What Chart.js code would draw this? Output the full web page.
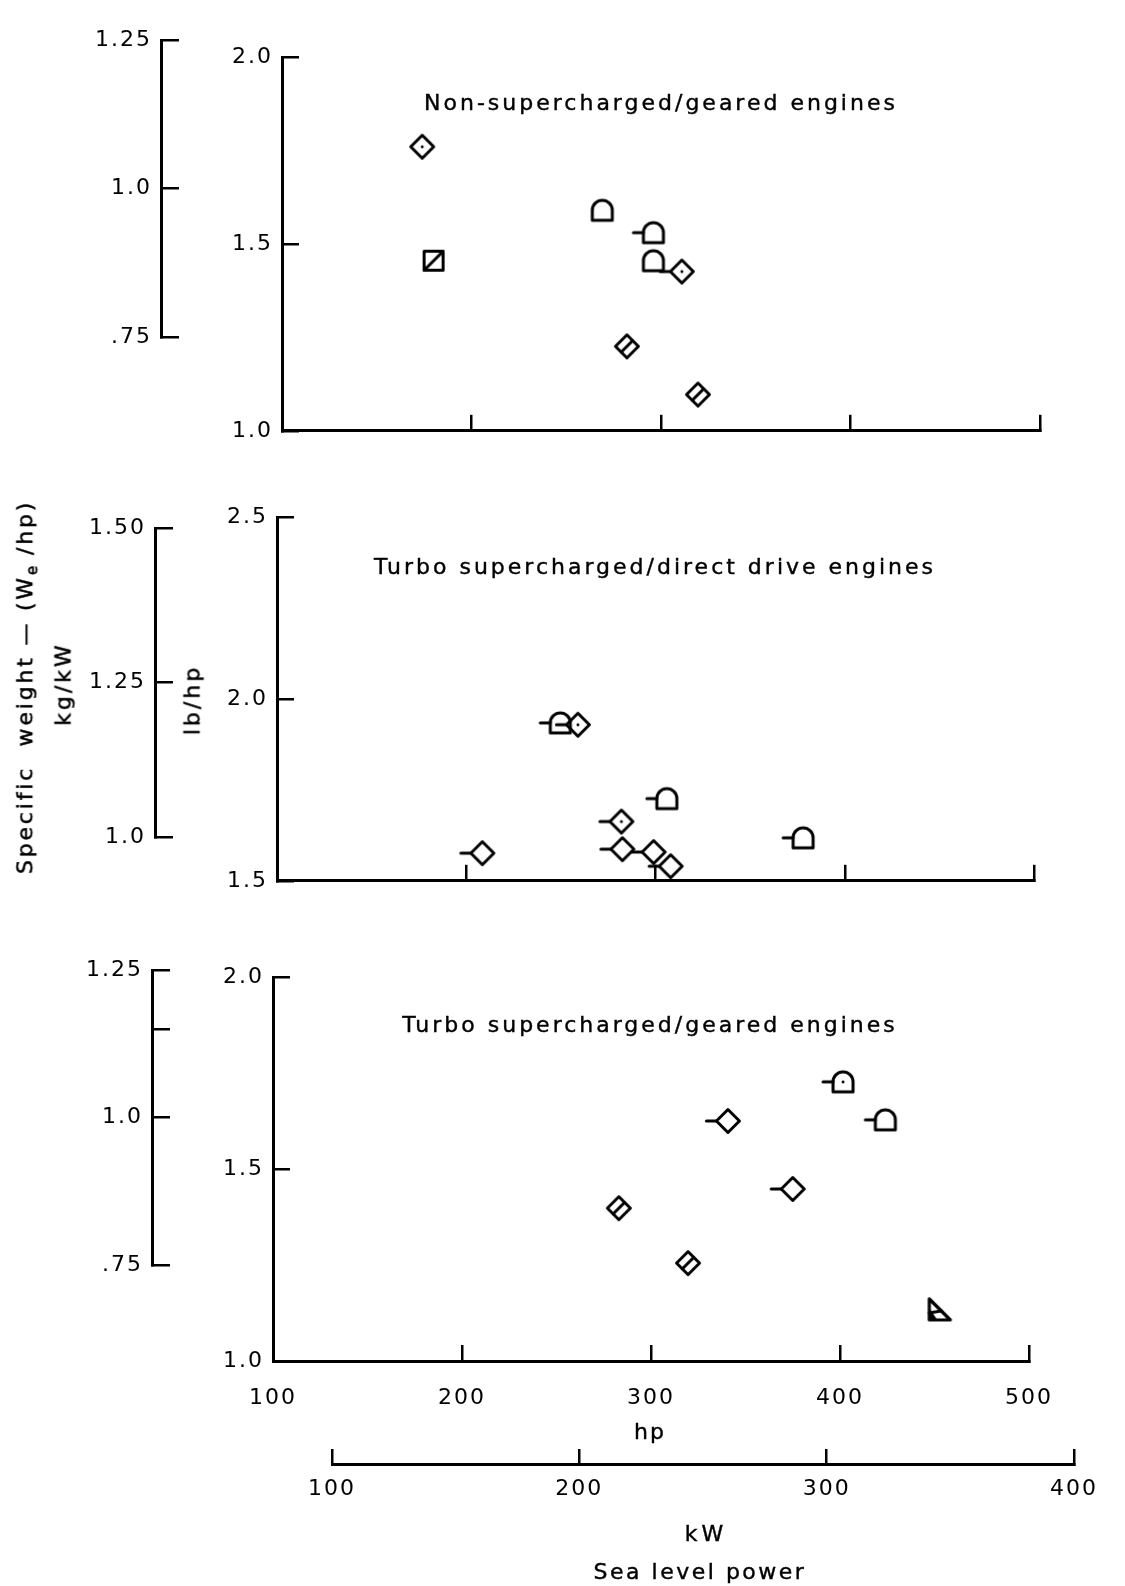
<!DOCTYPE html>
<html>
<head>
<meta charset="utf-8">
<script src="https://cdn.jsdelivr.net/npm/chart.js@4.4.1/dist/chart.umd.min.js"></script>
<style>
html,body{margin:0;padding:0;background:#fff;}
body{width:1125px;height:1586px;position:relative;overflow:hidden;font-family:"DejaVu Sans",sans-serif;color:#000;}
canvas{position:absolute;left:0;}
.txt{position:absolute;white-space:nowrap;font-size:22px;letter-spacing:3px;transform:translate(-50%,-50%);-webkit-text-stroke:0.4px #000;}
.rot{position:absolute;white-space:nowrap;font-size:22px;letter-spacing:2.8px;transform:translate(-50%,-50%) rotate(-90deg);-webkit-text-stroke:0.5px #000;}
.rot sub{font-size:15px;letter-spacing:1px;}
</style>
</head>
<body>
<canvas id="kg1" width="1125" height="470" style="top:0px"></canvas>
<canvas id="p1" width="1125" height="470" style="top:0px"></canvas>
<canvas id="kg2" width="1125" height="450" style="top:470px"></canvas>
<canvas id="p2" width="1125" height="450" style="top:470px"></canvas>
<canvas id="kg3" width="1125" height="470" style="top:930px"></canvas>
<canvas id="p3" width="1125" height="490" style="top:930px"></canvas>
<canvas id="kw" width="1125" height="186" style="top:1400px"></canvas>

<div class="txt" style="left:661px;top:102px;">Non-supercharged/geared engines</div>
<div class="txt" style="left:655px;top:566px;">Turbo supercharged/direct drive engines</div>
<div class="txt" style="left:650px;top:1024px;">Turbo supercharged/geared engines</div>
<div class="rot" style="left:27px;top:687px;">Specific&nbsp; weight — (W<sub>e</sub> /hp)</div>
<div class="rot" style="left:63px;top:684px;letter-spacing:3px;">kg/kW</div>
<div class="rot" style="left:192px;top:700px;letter-spacing:3px;">lb/hp</div>
<div class="txt" style="left:650px;top:1431px;letter-spacing:2px;">hp</div>
<div class="txt" style="left:706px;top:1533px;letter-spacing:4px;">kW</div>
<div class="txt" style="left:700px;top:1571px;letter-spacing:2.5px;">Sea level power</div>

<script>
// ---------------- data ----------------
const hpTicks = [100, 200, 300, 400, 500];
const hpTickLabels = ['100', '200', '300', '400', '500'];
const kwTicks = [100, 200, 300, 400];
const kwTickLabels = ['100', '200', '300', '400'];

const p1LbTicks = [1.0, 1.5, 2.0];
const p1LbLabels = ['1.0', '1.5', '2.0'];
const p1KgTicks = [0.75, 1.0, 1.25];
const p1KgLabels = ['.75', '1.0', '1.25'];

const p2LbTicks = [1.5, 2.0, 2.5];
const p2LbLabels = ['1.5', '2.0', '2.5'];
const p2KgTicks = [1.0, 1.25, 1.5];
const p2KgLabels = ['1.0', '1.25', '1.50'];

const p3LbTicks = [1.0, 1.5, 2.0];
const p3LbLabels = ['1.0', '1.5', '2.0'];
const p3KgTicks = [0.75, 1.0, 1.15, 1.25];
const p3KgLabels = ['.75', '1.0', '', '1.25'];

// Non-supercharged / geared engines
const p1Hp   = [174, 180, 269, 296, 296, 311, 282, 319.5];
const p1Lb   = [1.76, 1.455, 1.59, 1.53, 1.455, 1.426, 1.226, 1.097];
const p1Mark = ['diamondDot', 'squareSlash', 'dome', 'domeFlag', 'dome', 'diamondDotFlag', 'diamondHatch', 'diamondHatch'];

// Turbo supercharged / direct drive engines
const p2Hp   = [249.7, 259, 306, 282, 378, 208.5, 282.5, 299, 308];
const p2Lb   = [1.934, 1.929, 1.726, 1.663, 1.618, 1.576, 1.587, 1.579, 1.54];
const p2Mark = ['domeFlag', 'diamondDotFlag', 'domeFlag', 'diamondDotFlag', 'domeFlag', 'diamondFlag', 'diamondFlag', 'diamondFlag', 'diamondFlag'];

// Turbo supercharged / geared engines
const p3Hp   = [401.6, 424, 340.7, 375, 283, 319.6, 452];
const p3Lb   = [1.727, 1.628, 1.625, 1.448, 1.398, 1.255, 1.133];
const p3Mark = ['domeDotFlag', 'domeFlag', 'diamondFlag', 'diamondFlag', 'diamondHatch', 'diamondHatch', 'triangleHatch'];

// ---------------- markers ----------------
function makeMarker(kind) {
  const S = 56;
  const c = document.createElement('canvas');
  c.width = S; c.height = S;
  const g = c.getContext('2d');
  g.translate(S / 2, S / 2);
  g.strokeStyle = '#000'; g.fillStyle = '#000';
  g.lineWidth = 3; g.lineJoin = 'round'; g.lineCap = 'round';
  const line = (a, b, cc, d) => { g.beginPath(); g.moveTo(a, b); g.lineTo(cc, d); g.stroke(); };
  const dot = () => { g.beginPath(); g.arc(0, 0, 1.5, 0, Math.PI * 2); g.fill(); };
  const flag = kind.indexOf('Flag') >= 0;
  const hasDot = kind.indexOf('Dot') >= 0;
  if (kind.indexOf('diamond') === 0) {
    const R = 11.5;
    g.beginPath(); g.moveTo(0, -R); g.lineTo(R, 0); g.lineTo(0, R); g.lineTo(-R, 0); g.closePath(); g.stroke();
    if (flag) line(-R, 0, -R - 10, 0);
    if (hasDot) dot();
    if (kind.indexOf('Hatch') >= 0) line(-R / 2, R / 2, R / 2, -R / 2);
  } else if (kind.indexOf('dome') === 0) {
    const r = 10;
    g.beginPath(); g.moveTo(-r, 10); g.lineTo(-r, 0); g.arc(0, 0, r, Math.PI, 0); g.lineTo(r, 10); g.closePath(); g.stroke();
    if (flag) line(-r, 0, -r - 10, 0);
    if (hasDot) dot();
  } else if (kind === 'squareSlash') {
    const h = 9.5;
    g.strokeRect(-h, -h, 2 * h, 2 * h);
    line(-h, h, h, -h);
  } else if (kind === 'triangleHatch') {
    g.lineWidth = 3.2;
    g.beginPath(); g.moveTo(-9, -11); g.lineTo(-9, 10); g.lineTo(12, 10); g.closePath(); g.stroke();
    g.beginPath(); g.moveTo(-9, -2); g.lineTo(-9, 10); g.lineTo(-1, 10); g.closePath(); g.fill();
    line(-9, 3, 3, 1);
  }
  return c;
}
const MK = {};
['diamondDot', 'diamondDotFlag', 'diamondFlag', 'diamondHatch', 'squareSlash', 'dome', 'domeFlag', 'domeDotFlag', 'triangleHatch']
  .forEach(k => { MK[k] = makeMarker(k); });

// ---------------- charts ----------------
Chart.defaults.font.family = '"DejaVu Sans", sans-serif';
Chart.defaults.font.size = 22;
Chart.defaults.color = '#000';

const spacing = {
  id: 'spacing',
  beforeLayout(c) { c.ctx.letterSpacing = '2px'; },
  beforeDraw(c) { c.ctx.letterSpacing = '2px'; }
};

const baseOpts = {
  responsive: false,
  animation: false,
  devicePixelRatio: 1,
  events: [],
  plugins: { legend: { display: false }, tooltip: { enabled: false } }
};

function setTicks(vals) {
  return s => { s.ticks = vals.map(v => ({ value: v })); };
}

function yAxis(min, max, vals, labels, width, tl) {
  return {
    type: 'linear', position: 'left', min, max,
    afterBuildTicks: setTicks(vals),
    afterFit: s => { s.width = width; },
    ticks: { callback: (v, i) => labels[i], padding: 9 + tl, autoSkip: false },
    grid: { drawOnChartArea: false, drawTicks: true, tickLength: -tl, color: '#000', lineWidth: 2.5 },
    border: { display: true, color: '#000', width: 3 }
  };
}

function xAxis(min, max, vals, labels, height, showLabels, tl, pad) {
  return {
    type: 'linear', position: 'bottom', min, max,
    afterBuildTicks: setTicks(vals),
    afterFit: s => { s.height = height; },
    ticks: { callback: (v, i) => showLabels ? labels[i] : '', padding: pad + tl, maxRotation: 0, autoSkip: false },
    grid: { drawOnChartArea: false, drawTicks: true, tickLength: -tl, color: '#000', lineWidth: 2.5 },
    border: { display: true, color: '#000', width: 3 }
  };
}

function panel(id, canvasTop, canvasH, area, yMin, yMax, yVals, yLabels, hp, lb, marks, showX) {
  new Chart(document.getElementById(id), {
    type: 'scatter',
    plugins: [spacing],
    data: {
      datasets: [{
        data: hp.map((x, i) => ({ x: x, y: lb[i] })),
        pointStyle: c => MK[marks[c.dataIndex]],
        pointRadius: 5,
        clip: false,
        showLine: false
      }]
    },
    options: Object.assign({}, baseOpts, {
      layout: { padding: { left: 0, top: area.top - canvasTop, right: 1125 - area.right, bottom: 0 } },
      scales: {
        x: xAxis(100, 500, hpTicks, hpTickLabels, canvasTop + canvasH - area.bottom, showX, 16, 24),
        y: yAxis(yMin, yMax, yVals, yLabels, area.left, 17)
      }
    })
  });
}

function kgAxis(id, canvasTop, canvasH, area, yMin, yMax, yVals, yLabels) {
  new Chart(document.getElementById(id), {
    type: 'scatter',
    plugins: [spacing],
    data: { datasets: [{ data: [] }] },
    options: Object.assign({}, baseOpts, {
      layout: { padding: { left: 0, top: area.top - canvasTop, right: 1125 - area.left - 25, bottom: canvasTop + canvasH - area.bottom } },
      scales: {
        x: { type: 'linear', min: 0, max: 1, display: false },
        y: yAxis(yMin, yMax, yVals, yLabels, area.left, 18)
      }
    })
  });
}

// panel plotting areas (page pixels)
panel('p1', 0, 470, { left: 282, right: 1040, top: 57, bottom: 437 }, 1.0, 2.0, p1LbTicks, p1LbLabels, p1Hp, p1Lb, p1Mark, false);
panel('p2', 470, 450, { left: 277, right: 1034, top: 517, bottom: 897 }, 1.5, 2.5, p2LbTicks, p2LbLabels, p2Hp, p2Lb, p2Mark, false);
panel('p3', 930, 490, { left: 273, right: 1029, top: 977, bottom: 1361 }, 1.0, 2.0, p3LbTicks, p3LbLabels, p3Hp, p3Lb, p3Mark, true);

kgAxis('kg1', 0, 470, { left: 161, top: 24, bottom: 337 }, 0.75, 1.25, p1KgTicks, p1KgLabels);
kgAxis('kg2', 470, 450, { left: 155, top: 528, bottom: 837 }, 1.0, 1.5, p2KgTicks, p2KgLabels);
kgAxis('kg3', 930, 470, { left: 152, top: 954, bottom: 1265 }, 0.75, 1.25, p3KgTicks, p3KgLabels);

// secondary power axis in kW
new Chart(document.getElementById('kw'), {
  type: 'scatter',
  plugins: [spacing],
  data: { datasets: [{ data: [] }] },
  options: Object.assign({}, baseOpts, {
    layout: { padding: { left: 332, top: 40, right: 1125 - 1088, bottom: 0 } },
    scales: {
      x: xAxis(100, 400, kwTicks, kwTickLabels, 186 - 64, true, 15, 12),
      y: { type: 'linear', min: 0, max: 1, display: false }
    }
  })
});
</script>
</body>
</html>
